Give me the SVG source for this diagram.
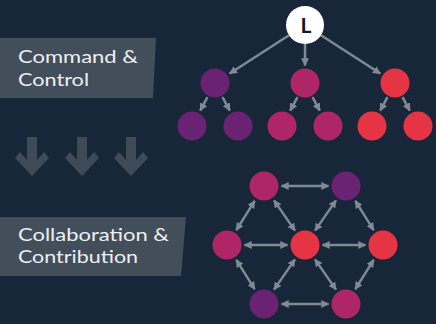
<svg xmlns="http://www.w3.org/2000/svg" width="436" height="324" viewBox="0 0 436 324">
  <defs>
    <style>
      .bg { fill: #172638; }
      .band { fill: #434e5b; }
      .band-text { font-family: Lato, "Liberation Sans", sans-serif; font-size: 18px; fill: #eef0f2; }
      .down { fill: #3f4a57; }
      .edge { stroke: #7f8a95; stroke-width: 2.5; fill: none; }
      .purple { fill: #6a2272; }
      .magenta { fill: #ae2667; }
      .red { fill: #e53544; }
      .leader { fill: #ffffff; }
      .leader-text { font-family: Lato, "Liberation Sans", sans-serif; font-size: 21px; font-weight: bold; fill: #111a2a; }
    </style>
    <marker id="head" viewBox="0 0 10 10" refX="9" refY="5" markerWidth="8" markerHeight="8" markerUnits="userSpaceOnUse" orient="auto-start-reverse">
      <path d="M0,0 L10,5 L0,10 z" fill="#7f8a95"/>
    </marker>
  </defs>

  <rect class="bg" x="0" y="0" width="436" height="324"/>

  <!-- label bands -->
  <g id="label-command">
    <polygon class="band" points="0,38 156,38 153,98 0,98"/>
    <text class="band-text" x="18" y="63" textLength="120" lengthAdjust="spacingAndGlyphs">Command &amp;</text>
    <text class="band-text" x="18" y="86" textLength="71" lengthAdjust="spacingAndGlyphs">Control</text>
  </g>
  <g id="label-collab">
    <polygon class="band" points="0,217 186,217 181,276 0,276"/>
    <text class="band-text" x="18" y="241" textLength="151" lengthAdjust="spacingAndGlyphs">Collaboration &amp;</text>
    <text class="band-text" x="18" y="263" textLength="120" lengthAdjust="spacingAndGlyphs">Contribution</text>
  </g>

  <!-- transition arrows -->
  <g id="down-arrows">
    <polygon class="down" points="27,137 37,137 37,160 44,152 49,158 32,176 15,158 20,152 27,160"/>
    <polygon class="down" transform="translate(50,0)" points="27,137 37,137 37,160 44,152 49,158 32,176 15,158 20,152 27,160"/>
    <polygon class="down" transform="translate(99,0)" points="27,137 37,137 37,160 44,152 49,158 32,176 15,158 20,152 27,160"/>
  </g>

  <!-- connectors -->
  <g id="connectors">
    <!-- hierarchy -->
    <line class="edge" x1="289" y1="35.3" x2="229.7" y2="73.5" marker-end="url(#head)"/>
    <line class="edge" x1="305" y1="44" x2="305" y2="65.5" marker-end="url(#head)"/>
    <line class="edge" x1="321" y1="35.3" x2="380.3" y2="73.5" marker-end="url(#head)"/>
    <line class="edge" x1="207.5" y1="97.1" x2="200.2" y2="110.6" marker-end="url(#head)"/>
    <line class="edge" x1="222.5" y1="97.1" x2="229.8" y2="110.6" marker-end="url(#head)"/>
    <line class="edge" x1="297.5" y1="97.1" x2="290.2" y2="110.6" marker-end="url(#head)"/>
    <line class="edge" x1="312.5" y1="97.1" x2="319.8" y2="110.6" marker-end="url(#head)"/>
    <line class="edge" x1="387.5" y1="97.1" x2="380.2" y2="110.6" marker-end="url(#head)"/>
    <line class="edge" x1="402.5" y1="97.1" x2="409.8" y2="110.6" marker-end="url(#head)"/>
    <!-- network -->
    <line class="edge" x1="281.5" y1="186" x2="328.5" y2="186" marker-start="url(#head)" marker-end="url(#head)"/>
    <line class="edge" x1="254.7" y1="200.8" x2="236.3" y2="230.2" marker-start="url(#head)" marker-end="url(#head)"/>
    <line class="edge" x1="274" y1="200.4" x2="295" y2="230.6" marker-start="url(#head)" marker-end="url(#head)"/>
    <line class="edge" x1="336" y1="200.4" x2="315" y2="230.6" marker-start="url(#head)" marker-end="url(#head)"/>
    <line class="edge" x1="355.3" y1="200.8" x2="373.7" y2="230.2" marker-start="url(#head)" marker-end="url(#head)"/>
    <line class="edge" x1="244.5" y1="245" x2="287.5" y2="245" marker-start="url(#head)" marker-end="url(#head)"/>
    <line class="edge" x1="322.5" y1="245" x2="365.5" y2="245" marker-start="url(#head)" marker-end="url(#head)"/>
    <line class="edge" x1="236.3" y1="259.8" x2="254.7" y2="289.2" marker-start="url(#head)" marker-end="url(#head)"/>
    <line class="edge" x1="295" y1="259.4" x2="274" y2="289.6" marker-start="url(#head)" marker-end="url(#head)"/>
    <line class="edge" x1="315" y1="259.4" x2="336" y2="289.6" marker-start="url(#head)" marker-end="url(#head)"/>
    <line class="edge" x1="373.7" y1="259.8" x2="355.3" y2="289.2" marker-start="url(#head)" marker-end="url(#head)"/>
    <line class="edge" x1="281.5" y1="304" x2="328.5" y2="304" marker-start="url(#head)" marker-end="url(#head)"/>
  </g>

  <!-- hierarchy nodes -->
  <g id="leader">
    <circle class="leader" cx="305" cy="25" r="19"/>
    <text class="leader-text" x="306" y="33" text-anchor="middle">L</text>
  </g>
  <g id="lead-a"><circle class="purple" cx="215" cy="83" r="14.5"/></g>
  <g id="lead-b"><circle class="magenta" cx="305" cy="83" r="14.5"/></g>
  <g id="lead-c"><circle class="red" cx="395" cy="83" r="14.5"/></g>
  <g id="member-a1"><circle class="purple" cx="192" cy="126" r="14.5"/></g>
  <g id="member-a2"><circle class="purple" cx="238" cy="126" r="14.5"/></g>
  <g id="member-b1"><circle class="magenta" cx="282" cy="126" r="14.5"/></g>
  <g id="member-b2"><circle class="magenta" cx="328" cy="126" r="14.5"/></g>
  <g id="member-c1"><circle class="red" cx="372" cy="126" r="14.5"/></g>
  <g id="member-c2"><circle class="red" cx="418" cy="126" r="14.5"/></g>

  <!-- network nodes -->
  <g id="peer-top-left"><circle class="magenta" cx="264" cy="186" r="14.5"/></g>
  <g id="peer-top-right"><circle class="purple" cx="346" cy="186" r="14.5"/></g>
  <g id="peer-left"><circle class="magenta" cx="227" cy="245" r="14.5"/></g>
  <g id="peer-center"><circle class="red" cx="305" cy="245" r="14.5"/></g>
  <g id="peer-right"><circle class="red" cx="383" cy="245" r="14.5"/></g>
  <g id="peer-bottom-left"><circle class="purple" cx="264" cy="304" r="14.5"/></g>
  <g id="peer-bottom-right"><circle class="magenta" cx="346" cy="304" r="14.5"/></g>
</svg>
